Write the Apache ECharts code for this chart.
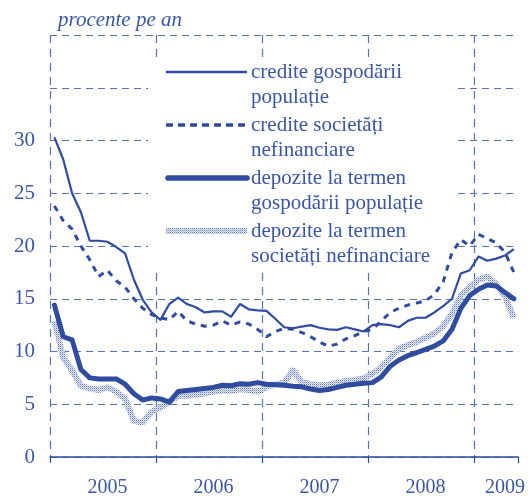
<!DOCTYPE html>
<html>
<head>
<meta charset="utf-8">
<script src="https://cdn.jsdelivr.net/npm/echarts@6/dist/echarts.min.js"></script>
<style>
  html, body { margin: 0; padding: 0; background: #fff; }
  #chart { width: 528px; height: 498px; }
</style>
</head>
<body>
<div id="chart"></div>
<script>
  // months Jan 2005 .. May 2009
  const years = ['2005', '2006', '2007', '2008', '2009'];
  const months = [];
  years.forEach((y) => {
    for (let m = 1; m <= 12; m++) {
      if (y === '2009' && m > 5) break;
      months.push(y + '-' + (m < 10 ? '0' + m : m));
    }
  });

  const crediteGospodarii = [
    30.3, 28.2, 25.0, 23.2, 20.5, 20.5, 20.4, 19.9, 19.3, 16.8, 14.9, 13.7,
    13.0, 14.5, 15.1, 14.5, 14.2, 13.7, 13.8, 13.8, 13.3, 14.5, 14.0, 13.9,
    13.85, 13.1, 12.3, 12.2, 12.35, 12.5, 12.25, 12.1, 12.05, 12.3, 12.1, 11.9,
    12.5, 12.6, 12.5, 12.3, 12.9, 13.2, 13.2, 13.7, 14.3, 15.0, 17.4, 17.7,
    19.0, 18.6, 18.8, 19.1, 19.7
  ];
  const crediteSocietati = [
    23.8, 22.4, 21.6, 20.0, 18.7, 17.1, 17.7, 16.7, 16.1, 15.0, 14.1, 13.5,
    13.2, 13.0, 13.8, 12.9, 12.6, 12.4, 12.5, 12.9, 12.5, 12.8, 12.6, 12.1,
    11.4, 11.9, 12.2, 12.1, 11.8, 11.4, 10.9, 10.5, 10.7, 11.2, 11.5, 11.9,
    12.1, 12.9, 13.7, 14.1, 14.4, 14.6, 14.8, 15.4, 16.6, 19.4, 20.6, 20.0,
    21.1, 20.7, 20.3, 19.4, 17.5
  ];
  const depoziteGospodarii = [
    14.4, 11.4, 11.1, 8.3, 7.5, 7.4, 7.4, 7.4, 6.9, 6.0, 5.4, 5.6,
    5.5, 5.2, 6.2, 6.3, 6.4, 6.5, 6.6, 6.8, 6.75, 6.95, 6.9, 7.05,
    6.9, 6.85, 6.8, 6.7, 6.65, 6.45, 6.3, 6.4, 6.6, 6.8, 6.9, 7.0,
    7.05, 7.6, 8.6, 9.2, 9.6, 9.9, 10.2, 10.5, 11.0, 12.1, 14.1, 15.3,
    15.9, 16.3, 16.2, 15.6, 15.0
  ];
  const depoziteSocietati = [
    12.9, 9.4, 8.2, 6.75, 6.5, 6.35, 6.6, 6.2, 5.5, 3.4, 3.3, 4.3,
    4.7, 5.2, 5.8, 5.8, 5.9, 6.05, 6.2, 6.3, 6.25, 6.45, 6.35, 6.2,
    6.6, 6.9, 7.05, 8.2, 7.1, 6.9, 6.8, 6.85, 7.05, 7.2, 7.3, 7.45,
    7.9, 8.5, 9.4, 10.3, 10.6, 10.9, 11.3, 11.7, 12.4, 13.6, 15.3, 16.1,
    16.8, 17.1, 16.4, 15.2, 13.2
  ];

  const legendLines = [
    ['credite gospodării', 'populație'],
    ['credite societăți', 'nefinanciare'],
    ['depozite la termen', 'gospodării populație'],
    ['depozite la termen', 'societăți nefinanciare']
  ];

  const BLUE = '#2f4c9f';
  const TEXT = '#3a56a6';
  const GRID = '#5872b8';
  const SERIF = '"Liberation Serif", "DejaVu Serif", serif';

  // dotted fill for the last series
  const pc = document.createElement('canvas');
  pc.width = 2;
  pc.height = 2;
  const pctx = pc.getContext('2d');
  pctx.fillStyle = '#eceff8';
  pctx.fillRect(0, 0, 2, 2);
  pctx.fillStyle = '#5f77bd';
  pctx.fillRect(0, 0, 1, 1);
  pctx.fillStyle = '#aebbe0';
  pctx.fillRect(1, 1, 1, 1);
  const hatch = { image: pc, repeat: 'repeat' };

  const yearTick = (idx) => idx % 12 === 0;
  const yearLabel = (idx) => idx % 12 === 6 || idx === 51;

  const legendGraphics = [
    { type: 'rect', z: 1, shape: { x: 148, y: 57, width: 307, height: 213 }, style: { fill: '#fff' } },
    { type: 'line', z: 5, shape: { x1: 166, y1: 72, x2: 247, y2: 72 }, style: { stroke: BLUE, lineWidth: 2.5 } },
    { type: 'line', z: 5, shape: { x1: 166, y1: 125, x2: 247, y2: 125 }, style: { stroke: BLUE, lineWidth: 3.5, lineDash: [7, 5] } },
    { type: 'line', z: 5, shape: { x1: 168, y1: 178, x2: 247, y2: 178 }, style: { stroke: BLUE, lineWidth: 5.5, lineCap: 'round' } },
    { type: 'line', z: 5, shape: { x1: 166, y1: 231, x2: 247, y2: 231 }, style: { stroke: hatch, lineWidth: 6 } }
  ];
  legendLines.forEach((pair, i) => {
    pair.forEach((t, j) => {
      legendGraphics.push({
        type: 'text', z: 5,
        style: {
          text: t, x: 251, y: 72 + i * 53 + j * 25.5,
          font: '21px ' + SERIF, fill: TEXT, verticalAlign: 'middle'
        }
      });
    });
  });
  legendGraphics.push({
    type: 'text', z: 5,
    style: {
      text: 'procente pe an', x: 58, y: 20,
      font: 'italic 21px ' + SERIF, fill: TEXT, verticalAlign: 'middle'
    }
  });

  const chart = echarts.init(document.getElementById('chart'));
  chart.setOption({
    animation: false,
    backgroundColor: '#fff',
    grid: { left: 50, right: 7, top: 35, bottom: 38 },
    xAxis: {
      type: 'category',
      data: months,
      boundaryGap: true,
      axisLine: { show: true, lineStyle: { color: BLUE, width: 1.5 } },
      axisTick: { show: true, interval: yearTick, length: 6, lineStyle: { color: BLUE, width: 1.2 } },
      axisLabel: {
        interval: yearLabel,
        formatter: (v) => v.slice(0, 4),
        margin: 21,
        color: TEXT,
        fontFamily: SERIF,
        fontSize: 20
      },
      splitLine: {
        show: true, interval: yearTick, showMaxLine: false,
        lineStyle: { color: GRID, width: 1.2, type: [8, 6] }
      }
    },
    yAxis: {
      type: 'value',
      min: 0,
      max: 40,
      interval: 5,
      axisLine: { show: false },
      axisTick: { show: false },
      axisLabel: {
        formatter: (v) => (v <= 30 ? String(v) : ''),
        margin: 15,
        color: TEXT,
        fontFamily: SERIF,
        fontSize: 21
      },
      splitLine: { show: true, lineStyle: { color: GRID, width: 1.2, type: [7, 5] } }
    },
    graphic: legendGraphics,
    series: [
      {
        name: 'depozite la termen societăți nefinanciare',
        type: 'line', data: depoziteSocietati, symbol: 'none', z: 2,
        lineStyle: { color: hatch, width: 6, join: 'round' }
      },
      {
        name: 'depozite la termen gospodării populație',
        type: 'line', data: depoziteGospodarii, symbol: 'none', z: 3,
        lineStyle: { color: BLUE, width: 5, cap: 'round', join: 'round' }
      },
      {
        name: 'credite societăți nefinanciare',
        type: 'line', data: crediteSocietati, symbol: 'none', z: 3,
        lineStyle: { color: BLUE, width: 3, type: [6, 6] }
      },
      {
        name: 'credite gospodării populație',
        type: 'line', data: crediteGospodarii, symbol: 'none', z: 4,
        lineStyle: { color: BLUE, width: 2.2, join: 'round' }
      }
    ]
  });
</script>
</body>
</html>
